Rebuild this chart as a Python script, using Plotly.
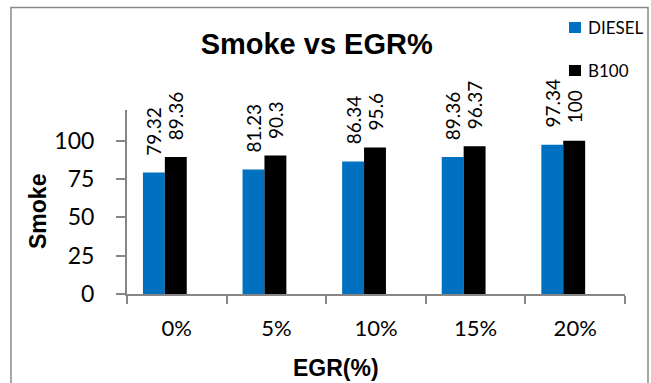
import plotly.graph_objects as go

# Smoke readings at each EGR level for the two fuels
egr_levels = ["0%", "5%", "10%", "15%", "20%"]
diesel_smoke = [79.32, 81.23, 86.34, 89.36, 97.34]
b100_smoke = [89.36, 90.3, 95.6, 96.37, 100]
series_names = ["DIESEL", "B100"]
series_colors = ["#0070C0", "#000000"]
y_ticks = [0, 25, 50, 75, 100]

# Figure geometry (pixels)
W, H = 651, 383
ML, MR, MT, MB = 127, 26, 110, 89
PW = W - ML - MR
PH = H - MT - MB


def px_x(px):
    """Pixel column -> paper x."""
    return (px - ML) / PW


def px_y(py):
    """Pixel row (from top) -> paper y."""
    return (H - MB - py) / PH


AXIS_GREY = "#868686"
LABEL_FONT = "Lato, Carlito, Calibri, sans-serif"
BOLD_FONT = "Liberation Sans, Arial, sans-serif"

BAR_W = 0.22
bar_offsets = [-0.34, -0.12]

fig = go.Figure()
annotations = []
shapes = []

for name, vals, color, off in zip(series_names, [diesel_smoke, b100_smoke],
                                  series_colors, bar_offsets):
    fig.add_trace(go.Bar(
        x=egr_levels, y=vals, name=name,
        marker=dict(color=color, line=dict(width=0)),
        width=BAR_W, offset=off, showlegend=False,
    ))
    # rotated value labels above each bar
    for i, v in enumerate(vals):
        annotations.append(dict(
            x=i + off + BAR_W / 2, y=v, xref="x", yref="y",
            text=f"{v:g}", textangle=-90, showarrow=False,
            xanchor="center", yanchor="bottom", yshift=15,
            font=dict(family=LABEL_FONT, size=19, color="#000000"),
        ))

# Legend: coloured squares with series names, stacked at the top right
legend_rows = [27.5, 70.5]
for name, color, cy in zip(series_names, series_colors, legend_rows):
    shapes.append(dict(
        type="rect", xref="paper", yref="paper",
        x0=px_x(569), x1=px_x(581), y0=px_y(cy - 5.5), y1=px_y(cy + 5.5),
        fillcolor=color, line=dict(width=0),
    ))
    annotations.append(dict(
        x=px_x(586), y=px_y(cy), xref="paper", yref="paper",
        text=name, showarrow=False, xanchor="left", yanchor="middle",
        font=dict(family=LABEL_FONT, size=17, color="#000000"),
    ))

# Axis titles
annotations.append(dict(
    x=px_x(37.5), y=px_y(211.5), xref="paper", yref="paper",
    text="<b>Smoke</b>", textangle=-90, showarrow=False,
    xanchor="center", yanchor="middle",
    font=dict(family=BOLD_FONT, size=23, color="#000000"),
))
annotations.append(dict(
    x=px_x(336), y=px_y(368), xref="paper", yref="paper",
    text="<b>EGR(%)</b>", showarrow=False,
    xanchor="center", yanchor="middle",
    font=dict(family=BOLD_FONT, size=23, color="#000000"),
))

# Chart-area border
shapes.append(dict(
    type="rect", xref="paper", yref="paper",
    x0=px_x(11), x1=px_x(648), y0=px_y(400), y1=px_y(7.5),
    line=dict(color="#8a8a8a", width=1.5), fillcolor="rgba(0,0,0,0)",
    layer="below",
))

fig.update_layout(
    width=W, height=H,
    margin=dict(l=ML, r=MR, t=MT, b=MB, pad=0),
    paper_bgcolor="white", plot_bgcolor="white",
    barmode="group",
    showlegend=False,
    title=dict(
        text="<b>Smoke vs EGR%</b>",
        font=dict(family=BOLD_FONT, size=29, color="#000000"),
        xref="container", yref="container",
        x=316.7 / W, y=1 - 44 / H, xanchor="center", yanchor="middle",
    ),
    annotations=annotations,
    shapes=shapes,
)

fig.update_xaxes(
    type="category", range=[-0.5, len(egr_levels) - 0.5],
    tickson="boundaries", ticks="outside", ticklen=8, tickwidth=1.5,
    tickcolor=AXIS_GREY, showline=True, linecolor=AXIS_GREY, linewidth=2,
    showgrid=False, zeroline=False,
    tickfont=dict(family=LABEL_FONT, size=22, color="#000000"),
    ticklabelstandoff=14,
    automargin=False,
)

fig.update_yaxes(
    range=[0, 120], tickvals=y_ticks,
    ticks="outside", ticklen=9, tickwidth=1.5,
    tickcolor=AXIS_GREY, showline=True, linecolor=AXIS_GREY, linewidth=2,
    showgrid=False, zeroline=False,
    tickfont=dict(family=LABEL_FONT, size=23, color="#000000"),
    ticklabelstandoff=17,
    automargin=False,
)

fig.write_html("out.html")
